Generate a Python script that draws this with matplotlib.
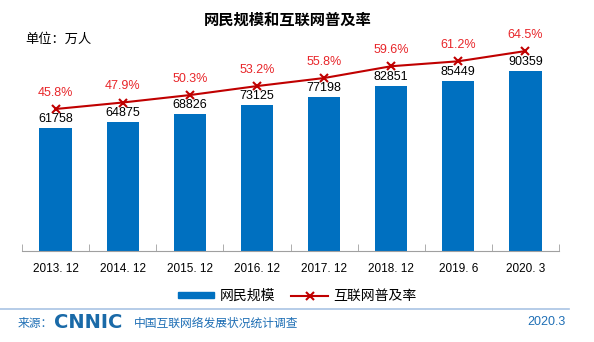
import numpy as np
import matplotlib.pyplot as plt
from matplotlib.lines import Line2D
from matplotlib.patches import Patch

plt.rcParams['font.family'] = ['Noto Sans CJK SC', 'DejaVu Sans']

periods = ['2013. 12', '2014. 12', '2015. 12', '2016. 12', '2017. 12', '2018. 12', '2019. 6', '2020. 3']
users = [61758, 64875, 68826, 73125, 77198, 82851, 85449, 90359]
rate = [45.8, 47.9, 50.3, 53.2, 55.8, 59.6, 61.2, 64.5]

bar_color = '#0070c0'
line_color = '#c00000'
label_red = '#e8262a'
num_font = ['Liberation Sans', 'DejaVu Sans']

fig = plt.figure(figsize=(5.94, 3.42), dpi=100)
ax = fig.add_axes([22 / 594, 91 / 342, 537 / 594, 221 / 342])
x = np.arange(len(periods))

ax.bar(x, users, width=0.48, color=bar_color)
ax.set_xlim(-0.5, len(periods) - 0.5)
ax.set_ylim(0, 221 * 502)
for xi, v in zip(x, users):
    ax.text(xi, v + 1500, str(v), ha='center', va='bottom', fontsize=9, color='black', family=num_font)

ax2 = ax.twinx()
ax2.plot(x, rate, color=line_color, lw=1.5, marker='x', ms=6, mew=1.5)
ax2.set_ylim(0, 221 / 3.1)
for xi, r in zip(x, rate):
    ax2.text(xi, r + 3.3, f'{r}%', ha='center', va='bottom', fontsize=9, color=label_red, family=num_font)

for a in (ax, ax2):
    for s in ('top', 'right', 'left'):
        a.spines[s].set_visible(False)
    a.set_yticks([])
ax2.spines['bottom'].set_visible(False)
ax.spines['bottom'].set_color('#a0a0a0')

ax.set_xticks(x)
ax.set_xticklabels(periods, fontsize=8.5, family=num_font)
ax.set_xticks(np.arange(-0.5, len(periods)), minor=True)
ax.tick_params(axis='x', which='major', length=0, pad=9)
ax.tick_params(axis='x', which='minor', length=5, direction='in', color='#a0a0a0')

fig.text(288 / 594, 1 - 20 / 342, '网民规模和互联网普及率', ha='center', va='center',
         fontsize=11, fontweight='bold')
fig.text(25 / 594, 1 - 39 / 342, '单位：万人', ha='left', va='center', fontsize=9.5)

handles = [Patch(color=bar_color), Line2D([], [], color=line_color, marker='x', lw=1.5, mew=1.5)]
fig.legend(handles, ['网民规模', '互联网普及率'], loc='center', bbox_to_anchor=(0.5, 1 - 296 / 342),
           ncol=2, frameon=False, fontsize=10, handlelength=2.6, handleheight=0.35,
           columnspacing=1.2, handletextpad=0.4)

fig.add_artist(Line2D([0, 569 / 594], [1 - 309 / 342] * 2, color='#a9c4e4', lw=1.2))
fig.text(18 / 594, 1 - 323 / 342, '来源：', ha='left', va='center', fontsize=8.5, color='#1f6fb5')
fig.text(54 / 594, 1 - 323 / 342, 'CNNIC', ha='left', va='center', fontsize=14, fontweight='bold',
         color='#1a6aa8', family=['DejaVu Sans'])
fig.text(134 / 594, 1 - 323 / 342, '中国互联网络发展状况统计调查', ha='left', va='center', fontsize=8.5,
         color='#1f6fb5')
fig.text(566 / 594, 1 - 322 / 342, '2020.3', ha='right', va='center', fontsize=9, color='#1f6fb5',
         family=num_font)

fig.savefig('out.png', dpi=100)
